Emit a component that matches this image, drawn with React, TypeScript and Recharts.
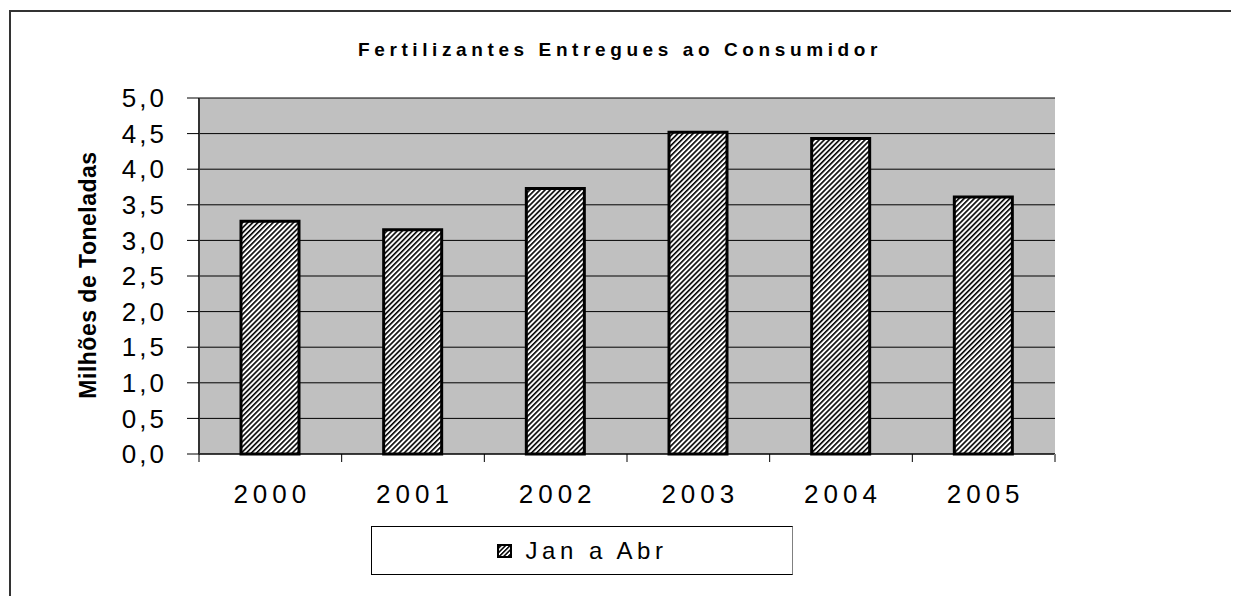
import { Bar, BarChart, CartesianGrid, XAxis, YAxis } from "recharts"

const years = ["2000", "2001", "2002", "2003", "2004", "2005"]
const janAbr = [3.27, 3.15, 3.73, 4.52, 4.43, 3.61]
const yTicks = [0, 0.5, 1, 1.5, 2, 2.5, 3, 3.5, 4, 4.5, 5]

const data = years.map((year, i) => ({ year, janAbr: janAbr[i] }))

const font = "Arial, 'Liberation Sans', sans-serif"

// chart box and plot area (chart coordinates)
const W = 1231
const H = 588
const PLOT_LEFT = 191
const PLOT_RIGHT = 1047
const band = (PLOT_RIGHT - PLOT_LEFT) / years.length

function XTick(props: any) {
  const { x, y, payload, index } = props
  return (
    <g>
      <line x1={x - band / 2} x2={x - band / 2} y1={y} y2={y + 8} stroke="#000" />
      {index === years.length - 1 && (
        <line x1={x + band / 2} x2={x + band / 2} y1={y} y2={y + 8} stroke="#808080" strokeWidth={2} />
      )}
      <text x={x + 2} y={y + 49} textAnchor="middle" fontSize={26} letterSpacing={5} fill="#000" fontFamily={font}>
        {payload.value}
      </text>
    </g>
  )
}

export default function App() {
  return (
    <div style={{ position: "relative", width: W, height: H, fontFamily: font, overflow: "hidden" }}>
      <style>{"html, body { overflow: hidden; }"}</style>
      {/* outer chart frame, its right and bottom edges fall outside the picture */}
      <div
        style={{
          position: "absolute",
          left: 1,
          top: 2,
          width: W + 40,
          height: H + 40,
          borderTop: "2px solid #333",
          borderLeft: "2px solid #333",
          boxSizing: "border-box",
        }}
      />
      <div
        style={{
          position: "absolute",
          left: 0,
          width: 1224,
          top: 31,
          textAlign: "center",
          fontWeight: "bold",
          fontSize: 19,
          letterSpacing: 4.6,
        }}
      >
        Fertilizantes Entregues ao Consumidor
      </div>
      <div
        style={{
          position: "absolute",
          left: 80 - 150,
          top: 267 - 14,
          width: 300,
          height: 28,
          lineHeight: "28px",
          textAlign: "center",
          fontWeight: "bold",
          fontSize: 23,
          letterSpacing: 0.5,
          transform: "rotate(-90deg)",
        }}
      >
        Milhões de Toneladas
      </div>
      <BarChart
        width={W}
        height={H}
        data={data}
        margin={{ top: 90, right: W - PLOT_RIGHT, left: PLOT_LEFT - 80, bottom: 82 }}
        barSize={58}
        style={{ position: "absolute", left: 0, top: 0 }}
      >
        <defs>
          <pattern id="hatch" patternUnits="userSpaceOnUse" width={3.6} height={3.6} patternTransform="rotate(45)">
            <rect width={3.6} height={3.6} fill="#fff" />
            <rect width={1.6} height={3.6} fill="#000" />
          </pattern>
        </defs>
        <CartesianGrid fill="#c0c0c0" vertical={false} stroke="#000" strokeOpacity={1} />
        <XAxis
          dataKey="year"
          axisLine={{ stroke: "#000" }}
          tickLine={false}
          tickSize={0}
          tickMargin={0}
          height={60}
          interval={0}
          tick={<XTick />}
        />
        <XAxis xAxisId="top" orientation="top" dataKey="year" tick={false} tickLine={false} height={0} axisLine={{ stroke: "#808080", strokeWidth: 2 }} />
        <YAxis
          domain={[0, 5]}
          ticks={yTicks}
          interval={0}
          width={80}
          tickSize={12}
          tickMargin={20}
          axisLine={{ stroke: "#333", strokeWidth: 2 }}
          tickLine={{ stroke: "#000" }}
          tick={{ fontSize: 26, fill: "#000", fontFamily: font, letterSpacing: 3 }}
          tickFormatter={(v: number) => v.toFixed(1).replace(".", ",")}
        />
        <YAxis yAxisId="right" orientation="right" tick={false} tickLine={false} width={0} axisLine={{ stroke: "#808080", strokeWidth: 2 }} />
        <Bar dataKey="janAbr" fill="url(#hatch)" stroke="#000" strokeWidth={3} isAnimationActive={false} />
      </BarChart>
      <div
        style={{
          position: "absolute",
          left: 363,
          top: 518,
          width: 422,
          height: 49,
          boxSizing: "border-box",
          border: "1px solid #000",
          borderRightColor: "#808080",
          display: "flex",
          alignItems: "center",
          justifyContent: "center",
          background: "#fff",
        }}
      >
        <svg width={15} height={14} style={{ marginRight: 14 }}>
          <defs>
            <pattern id="hatchLegend" patternUnits="userSpaceOnUse" width={3.2} height={3.2} patternTransform="rotate(45)">
              <rect width={3.2} height={3.2} fill="#fff" />
              <rect width={1.5} height={3.2} fill="#000" />
            </pattern>
          </defs>
          <rect x={1} y={1} width={13} height={12} fill="url(#hatchLegend)" stroke="#000" strokeWidth={2} />
        </svg>
        <span style={{ fontSize: 24, letterSpacing: 4.5 }}>Jan a Abr</span>
      </div>
    </div>
  )
}
